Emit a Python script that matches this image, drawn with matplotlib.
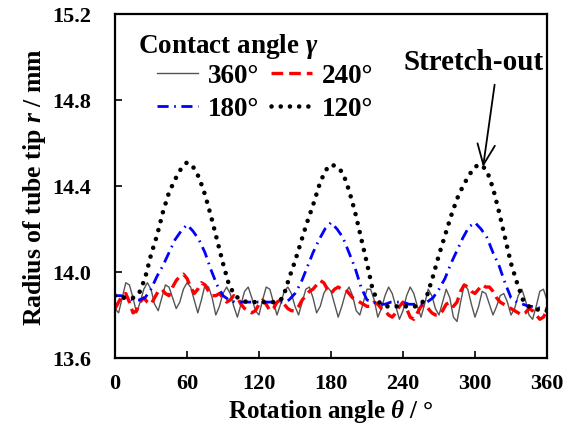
import numpy as np
import matplotlib
matplotlib.use("Agg")
import matplotlib.pyplot as plt

plt.rcParams['font.family'] = ['Liberation Serif', 'DejaVu Serif']
plt.rcParams['font.weight'] = 'bold'
plt.rcParams['axes.labelweight'] = 'bold'
plt.rcParams['mathtext.fontset'] = 'custom'
plt.rcParams['mathtext.it'] = 'Liberation Serif:italic:bold'
plt.rcParams['mathtext.rm'] = 'Liberation Serif:bold'
plt.rcParams['mathtext.bf'] = 'Liberation Serif:bold'

# ---------------- data ----------------
theta_fine = np.arange(0, 361, 3)
r_360 = [13.83, 13.81, 13.88, 13.95, 13.94, 13.88, 13.81, 13.86, 13.92, 13.95,
         13.92, 13.85, 13.82, 13.88, 13.94, 13.93, 13.88, 13.83, 13.86, 13.92,
         13.95, 13.93, 13.87, 13.81, 13.87, 13.94, 13.93, 13.88, 13.80, 13.84,
         13.90, 13.93, 13.90, 13.84, 13.79, 13.85, 13.91, 13.93, 13.88, 13.82,
         13.80, 13.87, 13.93, 13.92, 13.86, 13.80, 13.85, 13.91, 13.93, 13.90,
         13.84, 13.80, 13.86, 13.92, 13.93, 13.88, 13.81, 13.84, 13.90, 13.93,
         13.91, 13.85, 13.79, 13.84, 13.90, 13.93, 13.89, 13.82, 13.80, 13.86,
         13.92, 13.92, 13.87, 13.79, 13.83, 13.89, 13.93, 13.90, 13.84, 13.78,
         13.82, 13.89, 13.93, 13.90, 13.84, 13.79, 13.85, 13.92, 13.89, 13.83,
         13.80, 13.86, 13.92, 13.88, 13.79, 13.77, 13.86, 13.94, 13.92, 13.85,
         13.79, 13.84, 13.91, 13.90, 13.85, 13.80, 13.84, 13.89, 13.90, 13.86,
         13.80, 13.83, 13.89, 13.92, 13.87, 13.80, 13.78, 13.84, 13.91, 13.92,
         13.87]
r_240 = [13.83, 13.86, 13.89, 13.90, 13.86, 13.81, 13.82, 13.86, 13.88, 13.86,
         13.85, 13.88, 13.91, 13.92, 13.90, 13.89, 13.93, 13.96, 13.98, 13.99,
         13.97, 13.93, 13.90, 13.92, 13.95, 13.94, 13.91, 13.89, 13.89, 13.90,
         13.88, 13.86, 13.87, 13.89, 13.88, 13.85, 13.83, 13.82, 13.81, 13.82,
         13.85, 13.87, 13.85, 13.82, 13.83, 13.86, 13.87, 13.85, 13.83, 13.82,
         13.82, 13.84, 13.87, 13.89, 13.91, 13.92, 13.94, 13.96, 13.95, 13.92,
         13.90, 13.92, 13.93, 13.92, 13.92, 13.90, 13.88, 13.87, 13.86, 13.85,
         13.84, 13.84, 13.86, 13.85, 13.83, 13.82, 13.80, 13.79, 13.81, 13.84,
         13.86, 13.83, 13.79, 13.78, 13.81, 13.84, 13.85, 13.83, 13.81, 13.80,
         13.80, 13.82, 13.85, 13.86, 13.84, 13.86, 13.91, 13.94, 13.93, 13.91,
         13.90, 13.92, 13.94, 13.93, 13.93, 13.91, 13.88, 13.86, 13.85, 13.84,
         13.83, 13.82, 13.81, 13.80, 13.81, 13.83, 13.82, 13.80, 13.78, 13.79,
         13.82]

theta_coarse = np.arange(0, 361, 5)
r_180 = [13.89, 13.89, 13.88, 13.87, 13.87, 13.88, 13.92, 13.98, 14.03, 14.09,
         14.15, 14.19, 14.22, 14.19, 14.15, 14.09, 14.01, 13.94, 13.89, 13.87,
         13.86, 13.86, 13.86, 13.86, 13.86, 13.86, 13.86, 13.86, 13.86, 13.87,
         13.90, 13.95, 14.02, 14.09, 14.15, 14.20, 14.23, 14.20, 14.16, 14.09,
         14.02, 13.93, 13.87, 13.86, 13.85, 13.85, 13.86, 13.86, 13.86, 13.85,
         13.85, 13.85, 13.86, 13.88, 13.92, 13.97, 14.04, 14.10, 14.16, 14.21,
         14.23, 14.20, 14.16, 14.09, 14.03, 13.95, 13.88, 13.86, 13.85, 13.84,
         13.84, 13.83, 13.83]
r_120 = [13.89, 13.88, 13.88, 13.88, 13.90, 13.97, 14.08, 14.17, 14.28, 14.37,
         14.43, 14.48, 14.51, 14.49, 14.44, 14.36, 14.26, 14.15, 14.04, 13.94,
         13.89, 13.87, 13.86, 13.86, 13.86, 13.86, 13.86, 13.86, 13.88, 13.97,
         14.05, 14.14, 14.23, 14.31, 14.40, 14.47, 14.50, 14.49, 14.46, 14.38,
         14.28, 14.16, 14.04, 13.91, 13.86, 13.84, 13.84, 13.84, 13.84, 13.84,
         13.84, 13.85, 13.89, 13.98, 14.08, 14.17, 14.26, 14.34, 14.40, 14.45,
         14.49, 14.50, 14.47, 14.39, 14.28, 14.16, 14.04, 13.95, 13.87, 13.84,
         13.83, 13.82, 13.82]

labels = ['360°', '240°', '180°', '120°']
x_ticks = [0, 60, 120, 180, 240, 300, 360]
y_ticks = [13.6, 14.0, 14.4, 14.8, 15.2]

# ---------------- figure ----------------
fig = plt.figure(figsize=(5.66, 4.39), dpi=100)
ax = fig.add_axes([115/566, 1-359/439, 432/566, 344/439])

l1, = ax.plot(theta_fine, r_360, color='#555555', lw=1.0)
l2, = ax.plot(theta_fine, r_240, color='#ff0000', lw=2.4,
              dashes=(3.5, 1.8))
l3, = ax.plot(theta_coarse, r_180, color='#0000ff', lw=2.0,
              dashes=(4.0, 2.0, 0.6, 2.0))
l4, = ax.plot(theta_coarse, r_120, color='black', lw=3.3,
              dashes=(0.01, 2.0), dash_capstyle='round')

ax.set_xlim(0, 360)
ax.set_ylim(13.6, 15.2)
ax.set_xticks(x_ticks)
ax.set_yticks(y_ticks)
ax.set_xticklabels([str(v) for v in x_ticks], fontweight='bold')
ax.set_yticklabels([f'{v:.1f}' for v in y_ticks], fontweight='bold')
ax.tick_params(direction='in', length=5, width=1.2, labelsize=16)
ax.tick_params(axis='x', pad=11)
ax.tick_params(axis='y', pad=17)
for s in ax.spines.values():
    s.set_linewidth(1.6)

ax.set_xlabel(r'Rotation angle $\theta$ / °', fontsize=18, fontweight='bold',
              labelpad=3)
ax.set_ylabel(r'Radius of tube tip $r$ / mm', fontsize=18.5, fontweight='bold',
              labelpad=3)

ax.text(0.053, 0.907, r'Contact angle $\gamma$', transform=ax.transAxes,
        fontsize=19.5, fontweight='bold', ha='left', va='center')

leg = ax.legend([l1, l3, l2, l4], [labels[0], labels[2], labels[1], labels[3]],
                ncol=2, loc='upper left', bbox_to_anchor=(0.097, 0.857),
                frameon=False, prop={'size': 19.5, 'weight': 'bold'},
                handlelength=1.5, handletextpad=0.37, columnspacing=0.45,
                labelspacing=0.3, borderpad=0, borderaxespad=0)

ax.annotate('Stretch-out', xy=(306.7, 14.488), xytext=(298.8, 14.944),
            fontsize=21, fontweight='bold', ha='center', va='baseline',
            arrowprops=dict(arrowstyle='->,head_length=0.7,head_width=0.3',
                            lw=1.3, color='black', relpos=(0.66, 0.0),
                            shrinkA=5, shrinkB=0))

fig.savefig('out.png', dpi=100)
